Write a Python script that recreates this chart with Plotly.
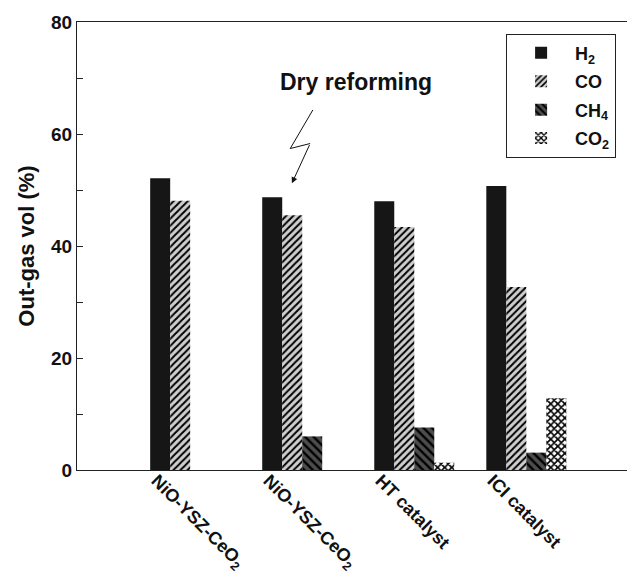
import plotly.graph_objects as go

categories = ["NiO-YSZ-CeO<sub>2</sub>", "NiO-YSZ-CeO<sub>2</sub>", "HT catalyst", "ICI catalyst"]
series_names = ["H<sub>2</sub>", "CO", "CH<sub>4</sub>", "CO<sub>2</sub>"]
h2 = [52.1, 48.7, 48.0, 50.7]
co = [48.1, 45.5, 43.4, 32.7]
ch4 = [0.0, 6.0, 7.6, 3.1]
co2 = [0.0, 0.0, 1.3, 12.8]
yticks = [0, 20, 40, 60, 80]

FONT = "Liberation Sans, Arial, sans-serif"
xpos = list(range(len(categories)))

styles = [
    dict(marker_color="#161616"),
    dict(marker_color="#cfcfcf",
         marker_pattern=dict(shape="/", fgcolor="#000000", bgcolor="#cfcfcf", fgopacity=1,
                             size=5, solidity=0.4)),
    dict(marker_color="#4d4d4d",
         marker_pattern=dict(shape="\\", fgcolor="#000000", bgcolor="#4d4d4d", fgopacity=1,
                             size=6, solidity=0.4)),
    dict(marker_color="#ffffff",
         marker_pattern=dict(shape="x", fgcolor="#000000", bgcolor="#ffffff", fgopacity=1,
                             size=5, solidity=0.55)),
]

fig = go.Figure()
for i, (name, vals, st) in enumerate(zip(series_names, [h2, co, ch4, co2], styles)):
    fig.add_trace(go.Bar(x=xpos, y=vals, name=name, legendgroup=f"g{i}",
                         marker_line_width=0, **st))

fig.update_layout(
    width=635, height=585,
    margin=dict(l=69, r=8, t=14, b=123, autoexpand=False),
    paper_bgcolor="white", plot_bgcolor="white",
    barmode="group", bargap=0.286, bargroupgap=0,
    font=dict(family=FONT, size=18, color="#1a1a1a"),
    showlegend=True,
    legend=dict(x=0.769, y=0.974, xanchor="left", yanchor="top",
                bordercolor="#222222", borderwidth=1, bgcolor="white",
                font=dict(family=FONT, size=18, color="#111111", weight="bold"),
                itemwidth=58, tracegroupgap=2),
    xaxis=dict(range=[-1.01, 3.97], showline=True, linecolor="#222222", linewidth=1,
               mirror=True, ticks="", showgrid=False, zeroline=False,
               tickmode="array", tickvals=[p - 0.3 for p in xpos], ticktext=categories,
               ticklabelstandoff=-8,
               tickangle=45, tickfont=dict(family=FONT, size=18, weight="bold", color="#111111")),
    yaxis=dict(range=[0, 80], showline=True, linecolor="#222222", linewidth=1,
               ticks="inside", ticklen=6, tickcolor="#222222", tickvals=yticks,
               minor=dict(ticks="inside", ticklen=6, dtick=10, tickcolor="#222222"),
               showgrid=False, zeroline=False,
               tickfont=dict(family=FONT, size=19, weight="bold", color="#111111"),
               title=dict(text="Out-gas vol (%)", standoff=10,
                          font=dict(family=FONT, size=22, weight="bold", color="#111111"))),
)

# Annotation text
fig.add_annotation(x=1.48, y=69.3, xref="x", yref="y", text="Dry reforming", showarrow=False,
                   font=dict(family=FONT, size=23, weight="bold", color="#111111"))
# Lightning zigzag
fig.add_shape(type="path", xref="x", yref="y",
              path="M 1.095 64.3 L 0.893 57.4 L 1.071 58.3",
              line=dict(color="#111111", width=1))
fig.add_annotation(x=0.908, y=51.2, ax=1.071, ay=58.3, xref="x", yref="y", axref="x", ayref="y",
                   text="", showarrow=True, arrowhead=2, arrowsize=1.2, arrowwidth=1, arrowcolor="#111111")

fig.write_html("out.html")
